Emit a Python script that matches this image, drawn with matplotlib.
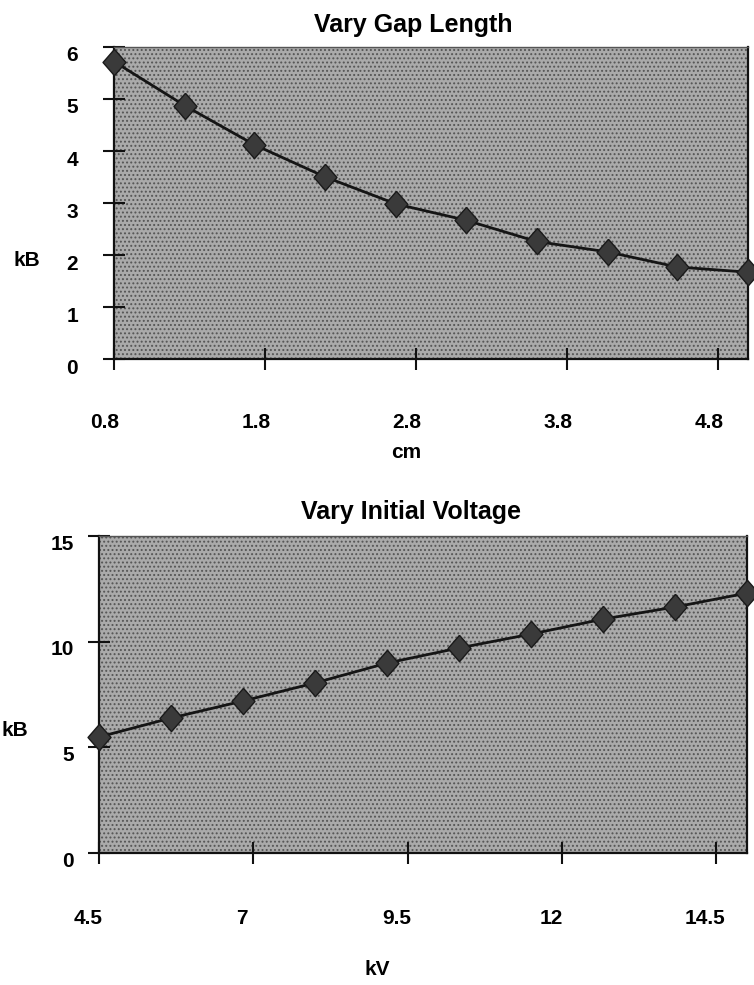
import matplotlib
matplotlib.use('Agg')
import matplotlib.pyplot as plt
import matplotlib.transforms as mtransforms

# data
gap_cm = [0.8, 1.27, 1.73, 2.2, 2.67, 3.13, 3.6, 4.07, 4.53, 5.0]
gap_kb = [5.72, 4.87, 4.12, 3.50, 2.98, 2.67, 2.26, 2.06, 1.77, 1.67]
gap_xticks = [0.8, 1.8, 2.8, 3.8, 4.8]
gap_yticks = [0, 1, 2, 3, 4, 5, 6]

volt_kv = [4.5, 5.67, 6.83, 8.0, 9.17, 10.33, 11.5, 12.67, 13.83, 15.0]
volt_kb = [5.49, 6.39, 7.19, 8.05, 8.99, 9.70, 10.36, 11.07, 11.64, 12.30]
volt_xticks = [4.5, 7, 9.5, 12, 14.5]
volt_yticks = [0, 5, 10, 15]

plt.rcParams['font.family'] = ['Liberation Sans', 'DejaVu Sans']
plt.rcParams['font.weight'] = 'bold'
plt.rcParams['hatch.linewidth'] = 0.9

DIAMOND = [(0, 1.15), (1, 0), (0, -1.15), (-1, 0), (0, 1.15)]


# move tick labels by a few pixels, like the scanned original
def shift_labels(fig, labels, dx, dy):
    off = mtransforms.ScaledTranslation(dx / 100, dy / 100, fig.dpi_scale_trans)
    for lab in labels:
        lab.set_transform(lab.get_transform() + off)


def style_panel(fig, ax, xpad, ypad, xshift, yshift):
    # stippled grey background
    ax.patch.set_facecolor('#aaaaaa')
    ax.patch.set_edgecolor('#555555')
    ax.patch.set_linewidth(0)
    ax.patch.set_hatch('....')
    for side in ['left', 'bottom', 'right']:
        ax.spines[side].set_linewidth(1.6)
        ax.spines[side].set_color('#111111')
    ax.spines['top'].set_linewidth(1.0)
    ax.spines['top'].set_color('#555555')
    ax.tick_params(axis='both', direction='inout', length=16, width=1.5,
                   labelsize=15, color='#111111')
    ax.tick_params(axis='x', pad=xpad)
    ax.tick_params(axis='y', pad=ypad)
    shift_labels(fig, ax.get_xticklabels(), xshift, 0)
    shift_labels(fig, ax.get_yticklabels(), 0, yshift)


def draw_panel(fig, ax, x, y, xticks, yticks, xlim, ylim):
    ax.plot(x, y, color='#151515', linewidth=2.0, marker=DIAMOND, markersize=19,
            markerfacecolor='#3a3a3a', markeredgecolor='#1a1a1a',
            markeredgewidth=1.0, clip_on=False, zorder=3)
    ax.set_xlim(xlim)
    ax.set_ylim(ylim)
    ax.set_xticks(xticks)
    ax.set_xticklabels([str(t) for t in xticks])
    ax.set_yticks(yticks)
    ax.set_yticklabels([str(t) for t in yticks])


def main():
    fig = plt.figure(figsize=(7.54, 9.85), dpi=100)

    # top panel: gap length
    ax1 = fig.add_axes([0.1512, 0.6355, 0.8408, 0.3168])
    draw_panel(fig, ax1, gap_cm, gap_kb, gap_xticks, gap_yticks, (0.8, 5.0), (0, 6))
    style_panel(fig, ax1, xpad=31, ypad=18, xshift=-9, yshift=-7)
    ax1.set_title('Vary Gap Length', fontsize=18, fontweight='bold',
                  x=0.472, y=1.072, va='center', pad=0)
    ax1.set_xlabel('cm', fontsize=15, fontweight='bold', va='center')
    ax1.xaxis.set_label_coords(0.461, -0.298)
    ax1.set_ylabel('kB', fontsize=15, fontweight='bold', rotation=0,
                   ha='center', va='center')
    ax1.yaxis.set_label_coords(-0.137, 0.317)

    # bottom panel: initial voltage
    ax2 = fig.add_axes([0.1313, 0.1340, 0.8594, 0.3218])
    draw_panel(fig, ax2, volt_kv, volt_kb, volt_xticks, volt_yticks, (4.5, 15.0), (0, 15))
    style_panel(fig, ax2, xpad=32, ypad=10, xshift=-11, yshift=-6)
    ax2.set_title('Vary Initial Voltage', fontsize=18, fontweight='bold',
                  x=0.481, y=1.076, va='center', pad=0)
    ax2.set_xlabel('kV', fontsize=15, fontweight='bold', va='center')
    ax2.xaxis.set_label_coords(0.430, -0.369)
    ax2.set_ylabel('kB', fontsize=15, fontweight='bold', rotation=0,
                   ha='center', va='center')
    ax2.yaxis.set_label_coords(-0.130, 0.388)

    fig.savefig('out.png', dpi=100)


if __name__ == "__main__":
    main()
